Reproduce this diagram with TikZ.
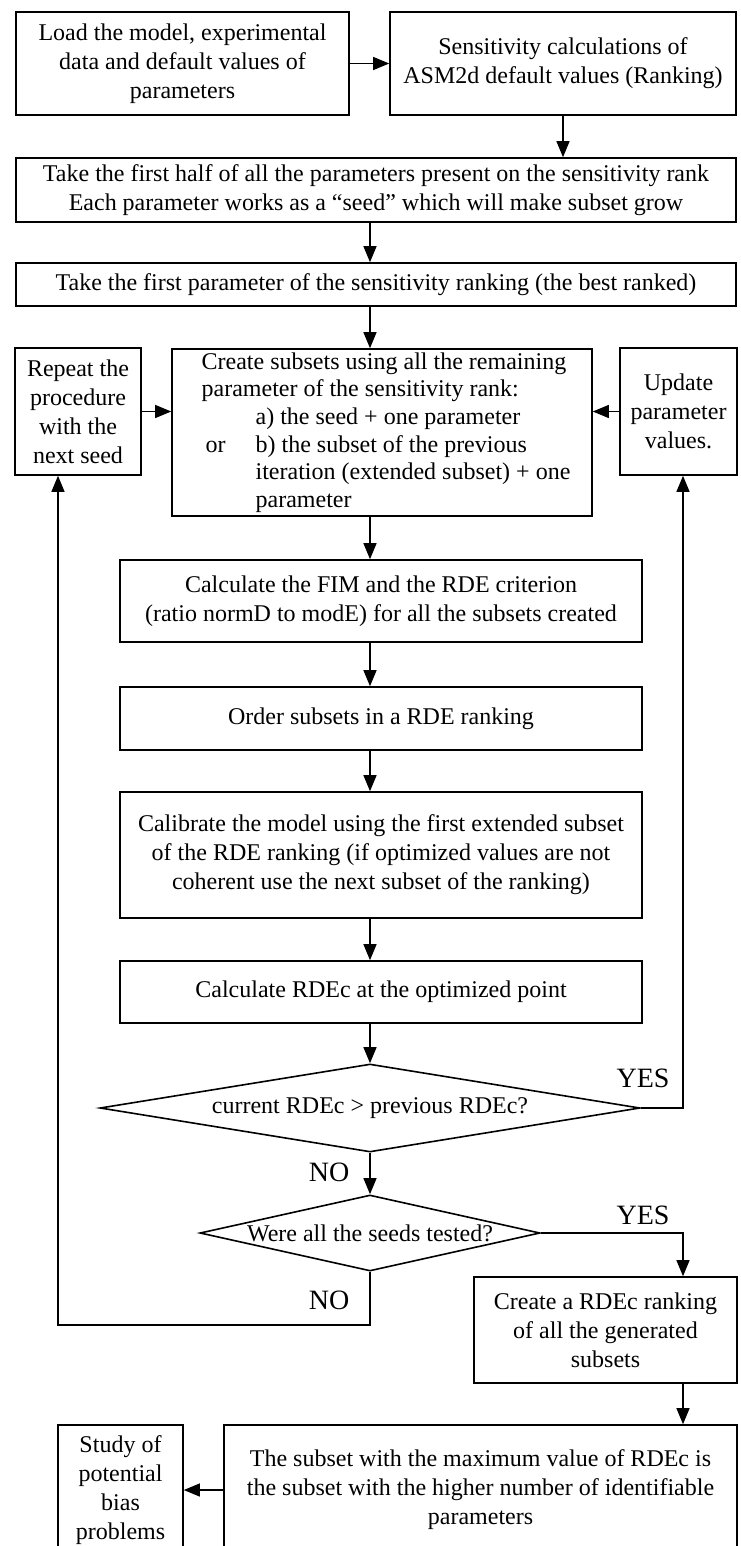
\documentclass[tikz,border=0pt]{standalone}
\usepackage{fontspec}
\setmainfont{Liberation Serif}
\usetikzlibrary{arrows.meta,shapes.geometric}
\begin{document}
\begin{tikzpicture}[x=1pt,y=-1pt,
  box/.style={draw, line width=0.8pt, align=center, inner sep=0pt, font=\fontsize{12}{14.5}\selectfont},
  dia/.style={draw, diamond, line width=0.8pt, inner sep=0pt, font=\fontsize{12}{14.5}\selectfont},
  arr/.style={-{Triangle[length=8pt,width=6.5pt]}, line width=0.6pt},
  lbl/.style={font=\fontsize{14}{16}\selectfont, inner sep=0pt}]
\useasboundingbox (0,0) rectangle (370,773);
\fill[white] (0,0) rectangle (370,773);

\node[box, minimum width=166.5pt, minimum height=51.5pt] (load) at (91.25,31.75)
  {Load the model, experimental\\data and default values of\\parameters};
\node[box, minimum width=173pt, minimum height=51.5pt] (sens) at (281.5,31.75)
  {Sensitivity calculations of\\ASM2d default values (Ranking)};
\node[box, minimum width=360pt, minimum height=32pt] (half) at (188,95)
  {Take the first half of all the parameters present on the sensitivity rank\\Each parameter works as a “seed” which will make subset grow};
\node[box, minimum width=360pt, minimum height=21.5pt] (first) at (188,142.25)
  {Take the first parameter of the sensitivity ranking (the best ranked)};
\node[box, minimum width=210pt, minimum height=83.5pt, align=left, font=\fontsize{12}{13.8}\selectfont] (create) at (191,216.25)
  {\hspace*{4pt}Create subsets using all the remaining\\
   \hspace*{4pt}parameter of the sensitivity rank:\\
   \hspace*{31pt}a) the seed + one parameter\\
   \hspace*{4pt}\makebox[27pt][l]{\hspace*{2pt}or}b) the subset of the previous\\
   \hspace*{31pt}iteration (extended subset) + one\\
   \hspace*{31pt}parameter};
\node[box, minimum width=63pt, minimum height=63.5pt] (repeat) at (39,205.75)
  {Repeat the\\procedure\\with the\\next seed};
\node[box, minimum width=58.5pt, minimum height=63.5pt] (update) at (339.25,205.75)
  {Update\\parameter\\values.};
\node[box, minimum width=261pt, minimum height=41pt] (fim) at (190.5,300.5)
  {Calculate the FIM and the RDE criterion\\(ratio normD to modE) for all the subsets created};
\node[box, minimum width=261pt, minimum height=31.5pt] (order) at (190.5,359.25)
  {Order subsets in a RDE ranking};
\node[box, minimum width=261pt, minimum height=63pt] (calib) at (190.5,427.5)
  {Calibrate the model using the first extended subset\\of the RDE ranking (if optimized values are not\\coherent use the next subset of the ranking)};
\node[box, minimum width=261pt, minimum height=31pt] (rdec) at (190.5,496)
  {Calculate RDEc at the optimized point};
\node[dia, minimum width=270pt, minimum height=44pt, aspect=6.14] (d1) at (185,554)
  {current RDEc > previous RDEc?};
\node[dia, minimum width=170pt, minimum height=38pt, aspect=4.47] (d2) at (185,616.5)
  {Were all the seeds tested?};
\node[box, minimum width=131.5pt, minimum height=53pt] (rank) at (302.75,665)
  {Create a RDEc ranking\\of all the generated\\subsets};
\node[box, minimum width=256.5pt, minimum height=65pt] (final) at (240.25,745)
  {The subset with the maximum value of RDEc is\\the subset with the higher number of identifiable\\parameters};
\node[box, minimum width=62.5pt, minimum height=65pt] (study) at (60.25,745)
  {Study of\\potential\\bias\\problems};

\node[lbl] (yes1) at (321.5,539) {YES};
\node[lbl] (no1) at (164.5,586) {NO};
\node[lbl] (yes2) at (321.5,607.5) {YES};
\node[lbl] (no2) at (164.5,650) {NO};

\coordinate (cx) at (185,0);
\coordinate (rx) at (341.5,0);
\coordinate (lx) at (29,0);
\coordinate (ly) at (0,662.5);

\draw[arr] (load.east) -- (sens.west);
\draw[arr] (sens.south) -- (sens.south |- half.north);
\draw[arr] (half.south -| cx) -- (cx |- first.north);
\draw[arr] (first.south -| cx) -- (cx |- create.north);
\draw[arr] (repeat.east) -- (repeat.east -| create.west);
\draw[arr] (update.west) -- (update.west -| create.east);
\draw[arr] (create.south -| cx) -- (cx |- fim.north);
\draw[arr] (fim.south -| cx) -- (cx |- order.north);
\draw[arr] (order.south -| cx) -- (cx |- calib.north);
\draw[arr] (calib.south -| cx) -- (cx |- rdec.north);
\draw[arr] (rdec.south -| cx) -- (d1.north);
\draw[arr] (d1.east) -- (d1.east -| rx) -- (rx |- update.south);
\draw[arr] (d1.south) -- (d2.north);
\draw[arr] (d2.south) -- (d2.south |- ly) -- (lx |- ly) -- (lx |- repeat.south);
\draw[arr] (d2.east) -- (d2.east -| rx) -- (rx |- rank.north);
\draw[arr] (rank.south -| rx) -- (rx |- final.north);
\draw[arr] (final.west) -- (study.east);
\end{tikzpicture}
\end{document}
